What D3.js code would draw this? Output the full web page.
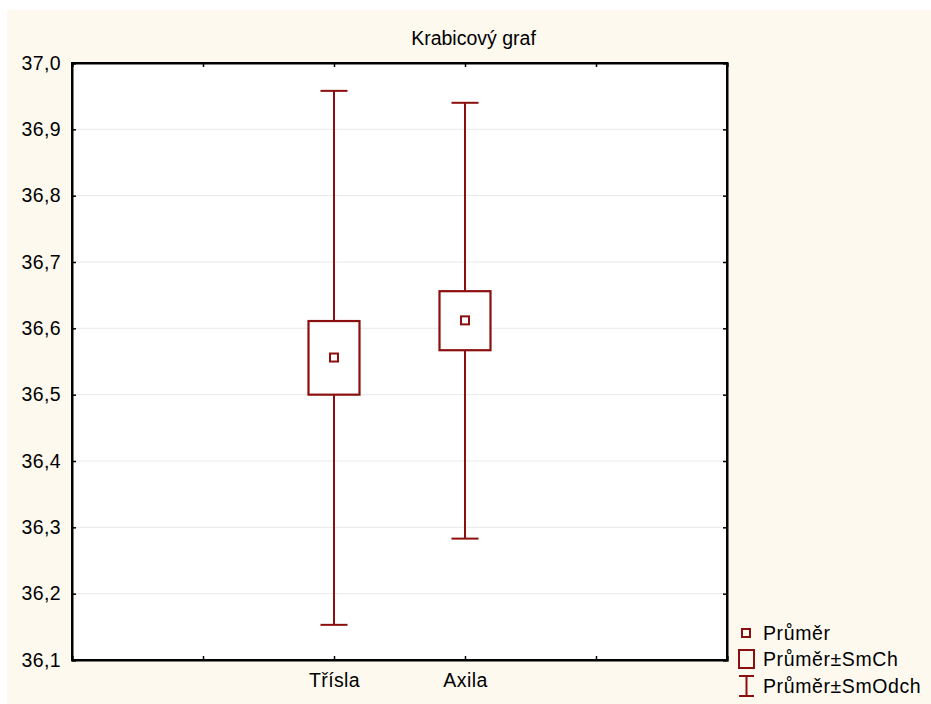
<!DOCTYPE html>
<html><head><meta charset="utf-8">
<script src="https://cdn.jsdelivr.net/npm/d3@7"></script>
<style>body{margin:0;background:#fff}svg{display:block}text{font-family:"Liberation Sans",Arial,sans-serif;fill:#000}</style>
</head><body><svg id="c" width="931" height="704"></svg>
<script>
const categories = ["", "Třísla", "Axila", "", ""];
const groups = ["Třísla", "Axila"];
const means = [36.556, 36.612];
const boxLow = [36.500, 36.567];
const boxHigh = [36.611, 36.656];
const whiskLow = [36.153, 36.283];
const whiskHigh = [36.958, 36.940];
const yTicks = [36.1, 36.2, 36.3, 36.4, 36.5, 36.6, 36.7, 36.8, 36.9, 37.0];
const legendLabels = ["Průměr", "Průměr±SmCh", "Průměr±SmOdch"];

const svg = d3.select("#c");
const col = "#8c0f0f";
const FS = "19.5px";
svg.append("rect").attr("x",7).attr("y",10).attr("width",924).attr("height",694).attr("fill","#fdf9ef");
const L=72, R=727, T=63, B=660;
svg.append("rect").attr("x",L).attr("y",T).attr("width",R-L).attr("height",B-T).attr("fill","#fff");
const y = d3.scaleLinear().domain([36.1,37.0]).range([B,T]);
const x = d3.scaleLinear().domain([0,5]).range([L,R]);
const fmt = v => d3.format(".1f")(v).replace(".",",");
// gridlines
svg.append("g").selectAll("line").data(yTicks.slice(1,-1)).join("line")
 .attr("x1",L).attr("x2",R).attr("y1",d=>y(d)).attr("y2",d=>y(d)).attr("stroke","#e8e8e8").attr("stroke-width",1);
// axes
const ax = svg.append("g").attr("transform",`translate(${L},0)`).call(d3.axisLeft(y).tickValues(yTicks).tickSize(-4).tickPadding(11).tickFormat(fmt));
ax.selectAll("text").style("font-size",FS).style("letter-spacing","0.4px").attr("fill","#000");
svg.append("g").attr("transform",`translate(${R},0)`).call(d3.axisRight(y).tickValues(yTicks).tickSize(-4).tickFormat(""));
const xb = svg.append("g").attr("transform",`translate(0,${B})`).call(d3.axisBottom(x).ticks(5).tickSize(-4).tickPadding(13).tickFormat(d=>categories[d-1]||""));
xb.selectAll("text").style("font-size",FS).style("letter-spacing","0.4px").attr("fill","#000");
svg.append("g").attr("transform",`translate(0,${T})`).call(d3.axisTop(x).ticks(5).tickSize(-4).tickFormat(""));
svg.selectAll(".domain").attr("stroke","#000").attr("stroke-width",2);
svg.selectAll(".tick line").attr("stroke","#000").attr("stroke-width",1.5);
// frame
svg.append("rect").attr("x",L).attr("y",T).attr("width",R-L).attr("height",B-T).attr("fill","none").attr("stroke","#000").attr("stroke-width",2);
// title
svg.append("text").attr("x",473.5).attr("y",45).attr("text-anchor","middle").style("font-size",FS).text("Krabicový graf");
// boxes
const g = svg.append("g");
groups.forEach((name,i)=>{
  const cx = x(i+2);
  g.append("line").attr("x1",cx).attr("x2",cx).attr("y1",y(whiskHigh[i])).attr("y2",y(boxHigh[i])).attr("stroke",col).attr("stroke-width",2);
  g.append("line").attr("x1",cx).attr("x2",cx).attr("y1",y(boxLow[i])).attr("y2",y(whiskLow[i])).attr("stroke",col).attr("stroke-width",2);
  [whiskHigh[i],whiskLow[i]].forEach(v=>g.append("line").attr("x1",cx-13.5).attr("x2",cx+13.5).attr("y1",y(v)).attr("y2",y(v)).attr("stroke",col).attr("stroke-width",2));
  g.append("rect").attr("x",cx-25.5).attr("width",51).attr("y",y(boxHigh[i])).attr("height",y(boxLow[i])-y(boxHigh[i])).attr("fill","#fff").attr("stroke",col).attr("stroke-width",2.2);
  g.append("rect").attr("x",cx-4).attr("width",8).attr("y",y(means[i])-4).attr("height",8).attr("fill","#fff").attr("stroke",col).attr("stroke-width",2);
});
// legend
const lg = svg.append("g");
const ly = [633,659,686];
lg.append("rect").attr("x",742).attr("y",ly[0]-4).attr("width",8).attr("height",8).attr("fill","none").attr("stroke",col).attr("stroke-width",2);
lg.append("rect").attr("x",739).attr("y",ly[1]-9).attr("width",15).attr("height",18).attr("fill","none").attr("stroke",col).attr("stroke-width",2);
lg.append("line").attr("x1",746.5).attr("x2",746.5).attr("y1",ly[2]-10).attr("y2",ly[2]+10).attr("stroke",col).attr("stroke-width",2);
[ly[2]-10,ly[2]+10].forEach(v=>lg.append("line").attr("x1",739).attr("x2",754).attr("y1",v).attr("y2",v).attr("stroke",col).attr("stroke-width",2));
legendLabels.forEach((t,i)=>lg.append("text").attr("x",763).attr("y",ly[i]+7).style("font-size",FS).style("letter-spacing","0.6px").text(t));
</script></body></html>
